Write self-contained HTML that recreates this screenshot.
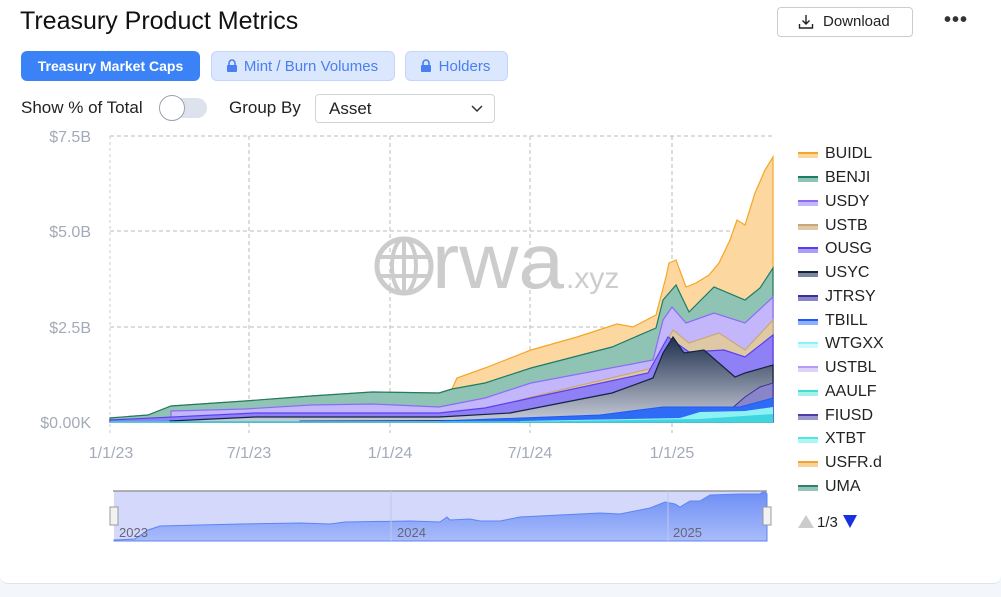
<!DOCTYPE html>
<html><head><meta charset="utf-8"><style>
*{margin:0;padding:0;box-sizing:border-box}
body{width:1001px;height:597px;background:#f3f6fb;font-family:"Liberation Sans",sans-serif;position:relative;overflow:hidden}
.card{position:absolute;left:0;top:0;width:1001px;height:584px;background:#fff;border-bottom:1px solid #dfe4ec;border-radius:0 0 8px 8px}
.abs{position:absolute}
.tab{position:absolute;top:51px;height:30px;border-radius:6px;font-size:14px;font-weight:bold;line-height:30px;text-align:center}
.lt{background:#dbe7fd;border:1px solid #c3d5fb;color:#4a7ff0;font-weight:normal;font-size:15px}
.leg{position:absolute;left:798px;font-size:16px;color:#222;height:20px;line-height:20px}
.leg i{position:absolute;left:0;top:8px;width:20px;height:6px;border-top:2px solid}
.leg span{position:absolute;left:27px}
</style></head><body>
<div class="card"></div>
<div class="abs" style="left:20px;top:7px;font-size:25px;color:#111">Treasury Product Metrics</div>
<div class="abs" style="left:777px;top:7px;width:136px;height:30px;border:1px solid #c9ccd3;border-radius:4px;font-size:15px;line-height:28px;padding-left:45px;color:#222">Download
<svg class="abs" style="left:20px;top:6px" width="16" height="16" viewBox="0 0 16 16" fill="none" stroke="#222" stroke-width="1.4"><path d="M8 1v9M4.5 6.5L8 10l3.5-3.5M1.5 10v4h13v-4"/></svg></div>
<div class="abs" style="left:944px;top:9px;font-size:20px;letter-spacing:1px;color:#333;font-weight:bold">•••</div>
<div class="tab" style="left:21px;width:179px;background:#3b82f6;color:#fff">Treasury Market Caps</div>
<div class="tab lt" style="left:211px;width:184px;padding-left:16px">Mint / Burn Volumes</div>
<div class="tab lt" style="left:405px;width:103px;padding-left:16px">Holders</div>
<svg class="abs" style="left:226px;top:59px" width="12" height="14"><rect x="1" y="6" width="10" height="7" rx="1" fill="#4a7ff0"/><path d="M3 6V4a3 3 0 0 1 6 0v2" stroke="#4a7ff0" stroke-width="1.6" fill="none"/></svg>
<svg class="abs" style="left:420px;top:59px" width="12" height="14"><rect x="1" y="6" width="10" height="7" rx="1" fill="#4a7ff0"/><path d="M3 6V4a3 3 0 0 1 6 0v2" stroke="#4a7ff0" stroke-width="1.6" fill="none"/></svg>
<div class="abs" style="left:21px;top:98px;font-size:17px;color:#222">Show % of Total</div>
<div class="abs" style="left:160px;top:98px;width:47px;height:20px;border-radius:10px;background:#dde2ec"></div>
<div class="abs" style="left:159px;top:95px;width:26px;height:26px;border-radius:13px;background:#fff;border:1px solid #9aa2b1"></div>
<div class="abs" style="left:229px;top:98px;font-size:17px;color:#222">Group By</div>
<div class="abs" style="left:315px;top:94px;width:180px;height:29px;border:1px solid #cfd3da;border-radius:4px;font-size:17px;line-height:27px;padding-left:13px;color:#222">Asset
<svg class="abs" style="left:155px;top:10px" width="12" height="8"><path d="M1 1l5 5 5-5" stroke="#333" stroke-width="1.5" fill="none"/></svg></div>

<svg class="abs" style="left:0;top:0" width="1001" height="597">
<defs>
<linearGradient id="gy" x1="0" y1="0" x2="0" y2="1"><stop offset="0" stop-color="#1e2f4d"/><stop offset="1" stop-color="#c8ccd8"/></linearGradient>
<linearGradient id="gn" x1="0" y1="0" x2="0" y2="1"><stop offset="0" stop-color="#6c8df5"/><stop offset="1" stop-color="#a9bcfa"/></linearGradient>
</defs>
<g stroke="#bbb" stroke-dasharray="4,3" stroke-width="1">
<line x1="110" y1="136" x2="773" y2="136"/><line x1="110" y1="231" x2="773" y2="231"/><line x1="110" y1="327" x2="773" y2="327"/>
<line x1="249" y1="136" x2="249" y2="433"/><line x1="390" y1="136" x2="390" y2="433"/><line x1="530" y1="136" x2="530" y2="433"/><line x1="672" y1="136" x2="672" y2="433"/>
</g>
<line x1="110" y1="136" x2="110" y2="433" stroke="#ccd" stroke-dasharray="3,3"/>
<g font-size="16" fill="#a3aab8" text-anchor="end">
<text x="91" y="142">$7.5B</text><text x="91" y="237">$5.0B</text><text x="91" y="333">$2.5B</text><text x="91" y="428">$0.00K</text></g>
<g font-size="16" fill="#a3aab8" text-anchor="middle">
<text x="111" y="458">1/1/23</text><text x="249" y="458">7/1/23</text><text x="390" y="458">1/1/24</text><text x="530" y="458">7/1/24</text><text x="672" y="458">1/1/25</text></g>
<!-- watermark -->
<g>
<circle cx="404" cy="266" r="27" fill="none" stroke="#ccc" stroke-width="5"/>
<ellipse cx="404" cy="266" rx="12" ry="27" fill="none" stroke="#ccc" stroke-width="4"/>
<line x1="404" y1="239" x2="404" y2="293" stroke="#ccc" stroke-width="4"/>
<line x1="378" y1="257" x2="430" y2="257" stroke="#ccc" stroke-width="4"/>
<line x1="378" y1="276" x2="430" y2="276" stroke="#ccc" stroke-width="4"/>
<text x="432" y="288" font-size="78" fill="#ccc" textLength="132" lengthAdjust="spacingAndGlyphs">rwa</text>
<text x="566" y="288" font-size="30" fill="#ccc">.xyz</text></g>
<!-- stacked areas -->
<path d="M110,418 L148,415 L171,406 L245,401 L311,396 L372,392 L439,393 L452,389 L457,378 L485,368 L531,350 L577,337 L617,324 L633,327 L656,315 L666,277 L669,263 L676,260 L686,287 L696,283 L709,275 L719,263 L730,240 L737,220 L745,225 L755,193 L765,170 L773,157 L773,422 L110,422Z" fill="#fcd79f" stroke="#f5a623" stroke-width="1.2"/>
<path d="M110,418 L148,415 L171,406 L245,401 L311,396 L372,392 L439,393 L452,389 L485,383 L531,368 L612,347 L656,328 L663,300 L676,285 L689,312 L714,287 L745,300 L760,288 L773,268 L773,422 L110,422Z" fill="#8fc4b4" stroke="#1e7b65" stroke-width="1.2"/>
<path d="M171,411 L245,409 L311,405 L372,404 L439,407 L485,398 L531,383 L653,360 L663,320 L672,307 L686,323 L714,313 L745,323 L773,297 L773,422 L171,422Z" fill="#c4b6fb" stroke="#8b6cf6" stroke-width="1.2"/>
<path d="M449,420 L485,410 L531,397 L653,368 L673,330 L689,343 L719,333 L745,350 L773,320 L773,422 L449,422Z" fill="#dfc9a4" stroke="#c8a77a" stroke-width="1.2"/>
<path d="M110,420 L255,413 L439,413 L485,408 L531,398 L648,373 L668,337 L689,352 L724,350 L745,357 L773,335 L773,422 L110,422Z" fill="#8f80f5" stroke="#5a3ff0" stroke-width="1.2"/>
<path d="M170,421 L255,417 L439,417 L510,413 L612,393 L653,378 L663,353 L673,337 L684,353 L704,350 L735,377 L745,373 L773,365 L773,422 L170,422Z" fill="url(#gy)" stroke="#142440" stroke-width="1.2"/>
<path d="M300,421 L600,420 L663,414 L730,410 L745,397 L760,387 L773,383 L773,422 L300,422Z" fill="#8a84c8" stroke="#3b2f9a" stroke-width="1"/>
<path d="M440,421 L600,415 L663,407 L740,407 L773,398 L773,422 L440,422Z" fill="#2f6cf5" stroke="#1f5af5" stroke-width="1"/>
<path d="M520,421 L680,418 L700,412 L745,411 L773,407 L773,422 L520,422Z" fill="#8ef2f5"/>
<path d="M560,421 L700,419 L773,414 L773,422 L560,422Z" fill="#3fd5e0"/>
<line x1="110" y1="422" x2="773" y2="422" stroke="#3fd5e0" stroke-width="1.5"/>
<!-- navigator -->
<rect x="114" y="491" width="653" height="50" fill="#d4d9fb"/>
<path d="M114,540 L135,539 L148,530 L160,526 L240,524 L300,523 L330,524 L345,522 L410,521 L440,522 L447,517 L450,520 L470,519 L480,521 L500,521 L520,517 L560,515 L600,513 L620,514 L650,508 L665,502 L675,504 L680,507 L690,501 L700,501 L710,495 L740,494 L760,494 L764,491 L767,494 L767,541 L114,541Z" fill="url(#gn)" stroke="#5b85f5" stroke-width="1"/>
<line x1="113" y1="491" x2="767" y2="491" stroke="#999" stroke-width="1.5"/>
<line x1="391" y1="491" x2="391" y2="541" stroke="#bfc6e8"/><line x1="668" y1="491" x2="668" y2="541" stroke="#bfc6e8"/>
<g font-size="13" fill="#667"><text x="119" y="537">2023</text><text x="397" y="537">2024</text><text x="673" y="537">2025</text></g>
<rect x="110" y="507" width="8" height="18" fill="#f2f2f2" stroke="#999"/>
<rect x="763" y="507" width="8" height="18" fill="#f2f2f2" stroke="#999"/>
<polygon points="798,528 806,515 814,528" fill="#ccc"/>
<text x="817" y="527" font-size="15" fill="#222">1/3</text>
<polygon points="843,515 857,515 850,528" fill="#1a2fe0"/>
</svg>

<div class="leg" style="top:144px"><i style="border-color:#f5a623;background:#fcd79f"></i><span>BUIDL</span></div>
<div class="leg" style="top:168px"><i style="border-color:#1e7b65;background:#8fc4b4"></i><span>BENJI</span></div>
<div class="leg" style="top:192px"><i style="border-color:#8b6cf6;background:#c4b6fb"></i><span>USDY</span></div>
<div class="leg" style="top:216px"><i style="border-color:#c8a77a;background:#dfc9a4"></i><span>USTB</span></div>
<div class="leg" style="top:239px"><i style="border-color:#5a3ff0;background:#a9a0f6"></i><span>OUSG</span></div>
<div class="leg" style="top:263px"><i style="border-color:#142440;background:#7b879c"></i><span>USYC</span></div>
<div class="leg" style="top:287px"><i style="border-color:#3b2f9a;background:#8a84c8"></i><span>JTRSY</span></div>
<div class="leg" style="top:311px"><i style="border-color:#1f5af5;background:#8fb0fa"></i><span>TBILL</span></div>
<div class="leg" style="top:334px"><i style="border-color:#8ef2f5;background:#d0fafa"></i><span>WTGXX</span></div>
<div class="leg" style="top:358px"><i style="border-color:#b39bf8;background:#ddd2fc"></i><span>USTBL</span></div>
<div class="leg" style="top:382px"><i style="border-color:#40e0d0;background:#a6f0ea"></i><span>AAULF</span></div>
<div class="leg" style="top:406px"><i style="border-color:#4b3fa5;background:#9c96cf"></i><span>FIUSD</span></div>
<div class="leg" style="top:429px"><i style="border-color:#4de8e0;background:#b0f5f2"></i><span>XTBT</span></div>
<div class="leg" style="top:453px"><i style="border-color:#f2a33a;background:#f8d098"></i><span>USFR.d</span></div>
<div class="leg" style="top:477px"><i style="border-color:#2f8070;background:#95c3b8"></i><span>UMA</span></div>
</body></html>
